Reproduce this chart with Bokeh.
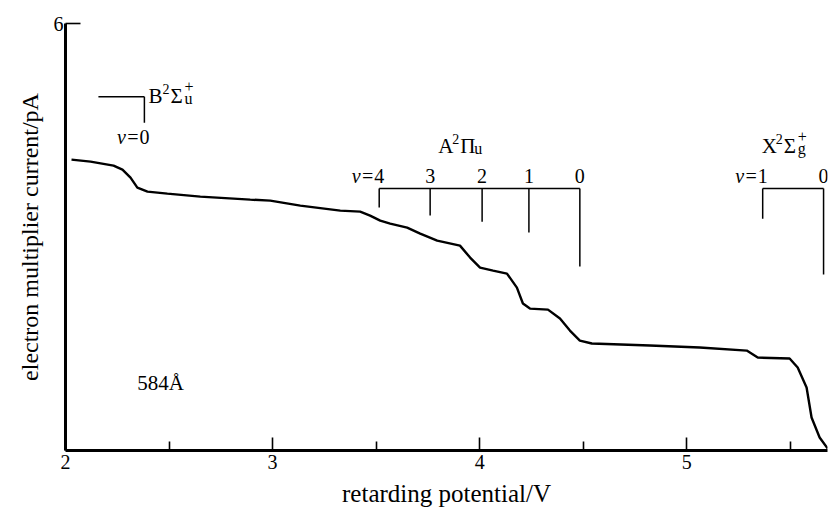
from bokeh.plotting import figure
from bokeh.models import FixedTicker, Label, Range1d
from bokeh.embed import file_html
from bokeh.resources import INLINE

# ---- data ----
volt = [2.029, 2.121, 2.232, 2.275, 2.314, 2.347, 2.396, 2.492, 2.651, 2.892,
        2.989, 3.134, 3.327, 3.423, 3.471, 3.520, 3.568, 3.650, 3.713, 3.795,
        3.905, 3.954, 4.002, 4.065, 4.132, 4.180, 4.209, 4.243, 4.330, 4.388,
        4.436, 4.484, 4.542, 4.822, 5.063, 5.290, 5.343, 5.497, 5.536, 5.579,
        5.603, 5.642, 5.681]
current = [4.087, 4.059, 4.003, 3.947, 3.834, 3.694, 3.638, 3.610, 3.567, 3.525,
           3.511, 3.441, 3.371, 3.357, 3.301, 3.230, 3.188, 3.132, 3.048, 2.949,
           2.879, 2.711, 2.570, 2.528, 2.486, 2.289, 2.065, 1.994, 1.980, 1.854,
           1.685, 1.545, 1.503, 1.475, 1.447, 1.404, 1.306, 1.292, 1.166, 0.885,
           0.463, 0.183, 0.028]

x_ticks = [2, 3, 4, 5]
x_minor = [2.5, 3.5, 4.5, 5.5]
y_ticks = [6]

# vibrational level markers
B_level_x = [2.381]
B_level_bottom = [4.607]
B_bar = (2.159, 2.381, 4.972)
B_labels = ["0"]

A_level_x = [3.515, 3.761, 4.012, 4.238, 4.484]
A_level_bottom = [3.413, 3.301, 3.216, 3.062, 2.584]
A_bar_y = 3.68
A_labels = ["4", "3", "2", "1", "0"]

X_level_x = [5.367, 5.661]
X_level_bottom = [3.258, 2.472]
X_bar_y = 3.68
X_labels = ["1", "0"]

FONT = "Liberation Serif"

p = figure(width=830, height=514, x_range=Range1d(2, 5.68), y_range=Range1d(0, 6),
           output_backend="svg", toolbar_location=None,
           min_border_left=65, min_border_right=3, min_border_top=23, min_border_bottom=64)
p.grid.visible = False
p.outline_line_color = None
p.background_fill_color = "white"
p.border_fill_color = "white"

xa = p.xaxis[0]
xa.ticker = FixedTicker(ticks=x_ticks, minor_ticks=x_minor)
xa.axis_line_width = 3
xa.axis_line_color = "black"
xa.major_tick_in = 13
xa.major_tick_out = 0
xa.minor_tick_in = 9
xa.minor_tick_out = 0
xa.major_tick_line_width = 1.6
xa.minor_tick_line_width = 1.6
xa.major_label_text_font = FONT
xa.major_label_text_font_size = "20px"
xa.major_label_text_color = "black"
xa.major_label_standoff = 4
xa.axis_label = "retarding potential/V"
xa.axis_label_text_font = FONT
xa.axis_label_text_font_style = "normal"
xa.axis_label_text_font_size = "25px"
xa.axis_label_text_color = "black"
xa.axis_label_standoff = 8

ya = p.yaxis[0]
ya.ticker = FixedTicker(ticks=y_ticks, minor_ticks=[])
ya.axis_line_width = 3
ya.axis_line_color = "black"
ya.major_tick_in = 15
ya.major_tick_out = 0
ya.major_tick_line_width = 1.6
ya.major_label_text_font = FONT
ya.major_label_text_font_size = "20px"
ya.major_label_text_color = "black"
ya.major_label_standoff = 2
ya.axis_label = "electron multiplier current/pA"
ya.axis_label_text_font = FONT
ya.axis_label_text_font_style = "normal"
ya.axis_label_text_font_size = "24px"
ya.axis_label_text_color = "black"
ya.axis_label_standoff = 8

# curve
p.line(volt, current, line_color="black", line_width=2.4)

# brackets
lw = 1.5
p.segment(x0=[B_bar[0]], y0=[B_bar[2]], x1=[B_bar[1]], y1=[B_bar[2]], line_color="black", line_width=lw)
p.segment(x0=B_level_x, y0=[B_bar[2]] * len(B_level_x), x1=B_level_x, y1=B_level_bottom,
          line_color="black", line_width=lw)
p.segment(x0=[A_level_x[0]], y0=[A_bar_y], x1=[A_level_x[-1]], y1=[A_bar_y], line_color="black", line_width=lw)
p.segment(x0=A_level_x, y0=[A_bar_y] * len(A_level_x), x1=A_level_x, y1=A_level_bottom,
          line_color="black", line_width=lw)
p.segment(x0=[X_level_x[0]], y0=[X_bar_y], x1=[X_level_x[-1]], y1=[X_bar_y], line_color="black", line_width=lw)
p.segment(x0=X_level_x, y0=[X_bar_y] * len(X_level_x), x1=X_level_x, y1=X_level_bottom,
          line_color="black", line_width=lw)

BASE_SHIFT = 8  # compensates the rendered baseline position


def lab(x, y, text, size=20, align="left", dx=0, dy=0, style="normal"):
    p.add_layout(Label(x=x, y=y, text=text, x_offset=dx, y_offset=dy + BASE_SHIFT,
                       text_font=FONT, text_font_size=f"{size}px", text_align=align,
                       text_baseline="alphabetic", text_color="black", text_font_style=style))


# vibrational numbering
for xv, t in zip(A_level_x, A_labels):
    lab(xv, A_bar_y, t, align="center", dy=5)
lab(A_level_x[0], A_bar_y, "\u03bd=", align="right", dx=-5, dy=5, style="italic")
for xv, t in zip(X_level_x, X_labels):
    lab(xv, X_bar_y, t, align="center", dy=5)
lab(X_level_x[0], X_bar_y, "\u03bd=", align="right", dx=-5, dy=5, style="italic")
lab(B_level_x[0], B_level_bottom[0], B_labels[0], align="center", dy=-22)
lab(B_level_x[0], B_level_bottom[0], "\u03bd=", align="right", dx=-5, dy=-22, style="italic")


def state(x, y, letter, sym, sub, sup=None, dx=0, dy=0):
    # letter, superscript 2, greek symbol, stacked sub/superscript (baseline anchored)
    lab(x, y, letter, size=21, dx=dx, dy=dy)
    lab(x, y, "2", size=14, dx=dx + 14, dy=dy + 7)
    lab(x, y, sym, size=21, dx=dx + 22, dy=dy)
    if sup:
        lab(x, y, sup, size=16, dx=dx + 36, dy=dy + 9)
    lab(x, y, sub, size=16, dx=dx + 36, dy=dy - 3)


state(B_level_x[0], B_bar[2], "B", "\u03a3", "u", "+", dx=4, dy=-7)
state(3.80, 4.17, "A", "\u03a0", "u")
state(5.362, 4.17, "X", "\u03a3", "g", "+")

lab(2.347, 0.843, "584\u00c5", size=21)

with open("out.html", "w") as f:
    f.write(file_html(p, INLINE))
